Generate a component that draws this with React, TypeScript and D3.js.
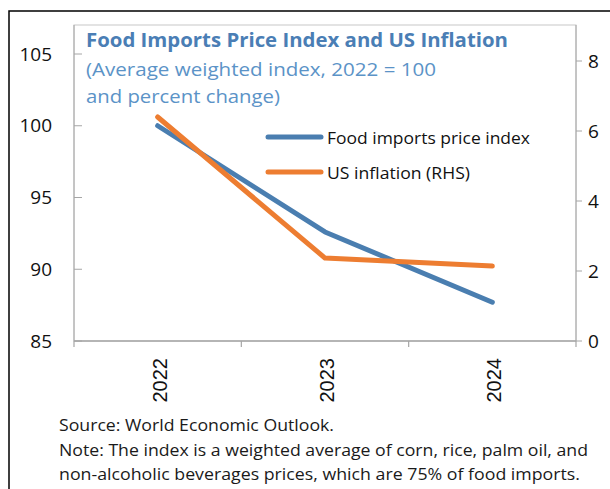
import React from 'react';
import * as d3 from 'd3';

// chart values
const years = ['2022', '2023', '2024'];
const foodIndex = [100, 92.6, 87.7];
const usInflation = [6.4, 2.37, 2.14];
const leftTicks = [85, 90, 95, 100, 105];
const rightTicks = [0, 2, 4, 6, 8];

const titleText = 'Food Imports Price Index and US Inflation';
const subtitleLines = ['(Average weighted index, 2022 = 100', 'and percent change)'];
const legendLabels = ['Food imports price index', 'US inflation (RHS)'];
const footerLines = [
    'Source: World Economic Outlook.',
    'Note: The index is a weighted average of corn, rice, palm oil, and',
    'non-alcoholic beverages prices, which are 75% of food imports.'
];

export default function App() {

    // layout
    const width = 610;
    const height = 489;
    const plot = { left: 74, right: 576, top: 25, bottom: 341 };

    const blue = '#4a7eb0';
    const orange = '#ed7d31';
    const axisGray = '#a6a6a6';
    const font = '"Open Sans", "Noto Sans", sans-serif';

    // scales
    const x = d3.scalePoint<string>()
        .domain(years)
        .range([plot.left, plot.right])
        .padding(0.5);

    const band = d3.scaleBand<string>()
        .domain(years)
        .range([plot.left, plot.right]);

    const yLeft = d3.scaleLinear().domain([85, 105]).range([plot.bottom, 54]);
    const yRight = d3.scaleLinear().domain([0, 8]).range([plot.bottom, 61]);

    const foodLine = d3.line<number>()
        .x((d, i) => x(years[i]) as number)
        .y(d => yLeft(d));

    const inflLine = d3.line<number>()
        .x((d, i) => x(years[i]) as number)
        .y(d => yRight(d));

    // category boundaries for the x ticks
    const xBoundaries = years.map(y => band(y) as number).concat([plot.right]);

    const footerLengths = [275, 529, 521];

    return (
        <svg width={width} height={height}
             style={{ position: 'absolute', left: 0, top: 0, background: '#fff' }}>

            {/* outer frame */}
            <path d={`M9,${height} V11 H${width}`} fill="none" stroke="#000" strokeWidth={1.5}/>

            {/* plot area frame */}
            <rect x={plot.left} y={plot.top} width={plot.right - plot.left} height={plot.bottom - plot.top}
                  fill="none" stroke="#c8c8c8" strokeWidth={1}/>

            {/* x axis */}
            <line x1={plot.left} x2={plot.right} y1={plot.bottom} y2={plot.bottom} stroke={axisGray} strokeWidth={1.5}/>
            {xBoundaries.map((bx, i) => (
                <line key={'xt' + i} x1={bx} x2={bx} y1={plot.bottom} y2={plot.bottom + 6} stroke={axisGray} strokeWidth={1.2}/>
            ))}
            {years.map(yr => (
                <text key={'xl' + yr}
                      transform={`translate(${(x(yr) as number) + 2},358) rotate(-90)`}
                      textAnchor="end" dy="0.35em"
                      fontFamily='"Liberation Sans", Arial, sans-serif' fontSize={20} fill="#111">
                    {yr}
                </text>
            ))}

            {/* left axis */}
            <line x1={plot.left} x2={plot.left} y1={plot.top} y2={plot.bottom} stroke={axisGray} strokeWidth={1}/>
            {leftTicks.map(t => (
                <g key={'lt' + t}>
                    <line x1={plot.left} x2={plot.left + 8} y1={yLeft(t)} y2={yLeft(t)} stroke={axisGray} strokeWidth={1}/>
                    <text x={52} y={yLeft(t)} dy="0.35em" textAnchor="end"
                          fontFamily={font} fontSize={19} fill="#111">{t}</text>
                </g>
            ))}

            {/* right axis */}
            <line x1={plot.right} x2={plot.right} y1={plot.top} y2={plot.bottom} stroke={axisGray} strokeWidth={1}/>
            {rightTicks.map(t => (
                <g key={'rt' + t}>
                    <line x1={plot.right} x2={plot.right + 6} y1={yRight(t)} y2={yRight(t)} stroke={axisGray} strokeWidth={1}/>
                    <text x={588} y={yRight(t)} dy="0.35em" textAnchor="start"
                          fontFamily={font} fontSize={19} fill="#111">{t}</text>
                </g>
            ))}

            {/* title */}
            <text x={86} y={47} fontFamily={font} fontWeight="bold" fontSize={20} fill="#4a7eb5"
                  textLength={422} lengthAdjust="spacingAndGlyphs">{titleText}</text>
            <text x={86} y={76} fontFamily={font} fontSize={19} fill="#5b93c7"
                  textLength={350} lengthAdjust="spacingAndGlyphs">{subtitleLines[0]}</text>
            <text x={86} y={103} fontFamily={font} fontSize={19} fill="#5b93c7"
                  textLength={194} lengthAdjust="spacingAndGlyphs">{subtitleLines[1]}</text>

            {/* lines */}
            <path d={foodLine(foodIndex) as string} fill="none" stroke={blue} strokeWidth={5}
                  strokeLinecap="round" strokeLinejoin="round"/>
            <path d={inflLine(usInflation) as string} fill="none" stroke={orange} strokeWidth={5}
                  strokeLinecap="round" strokeLinejoin="round"/>

            {/* legend */}
            <line x1={268} x2={321} y1={137} y2={137} stroke={blue} strokeWidth={5} strokeLinecap="round"/>
            <text x={327} y={144} fontFamily={font} fontSize={16.5} fill="#111"
                  textLength={203} lengthAdjust="spacingAndGlyphs">{legendLabels[0]}</text>
            <line x1={268} x2={321} y1={172} y2={172} stroke={orange} strokeWidth={5} strokeLinecap="round"/>
            <text x={327} y={179} fontFamily={font} fontSize={16.5} fill="#111"
                  textLength={143} lengthAdjust="spacingAndGlyphs">{legendLabels[1]}</text>

            {/* footer */}
            {footerLines.map((line, i) => (
                <text key={'f' + i} x={59} y={431 + i * 24.5} fontFamily={font} fontSize={16.5} fill="#1a1a1a"
                      textLength={footerLengths[i]} lengthAdjust="spacingAndGlyphs">{line}</text>
            ))}
        </svg>
    );
}
